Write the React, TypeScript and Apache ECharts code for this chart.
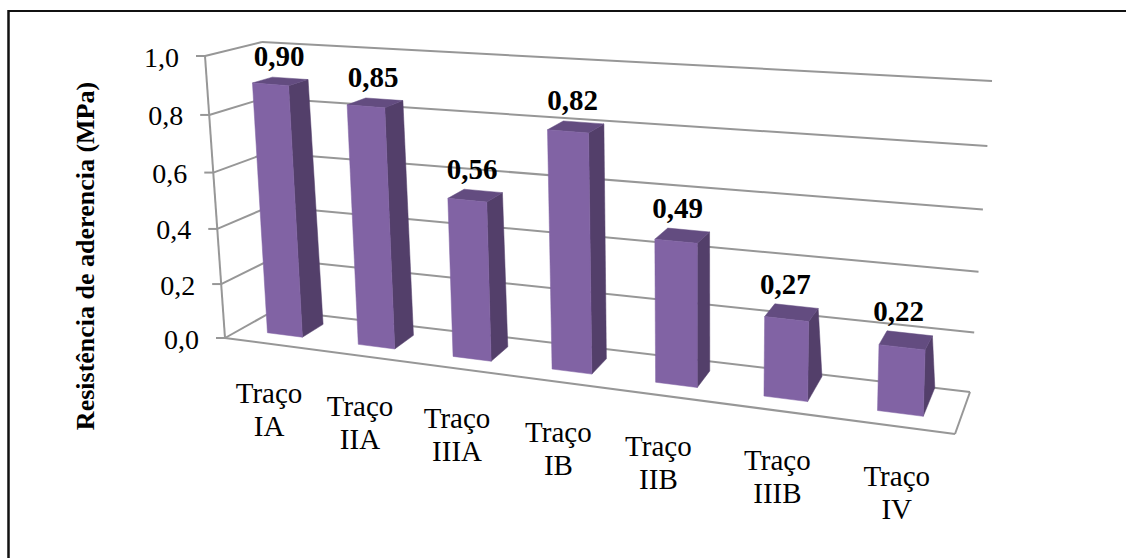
import React, { useEffect, useRef } from "react";
import * as echarts from "echarts";

// Chart contents
const categories = ["Traço\nIA", "Traço\nIIA", "Traço\nIIIA", "Traço\nIB", "Traço\nIIB", "Traço\nIIIB", "Traço\nIV"];
const adhesion = [0.9, 0.85, 0.56, 0.82, 0.49, 0.27, 0.22];
const adhesionLabels = ["0,90", "0,85", "0,56", "0,82", "0,49", "0,27", "0,22"];
const yTicks = [0, 0.2, 0.4, 0.6, 0.8, 1.0];
const yTickLabels = ["0,0", "0,2", "0,4", "0,6", "0,8", "1,0"];
const yTitle = "Resistência de aderencia (MPa)";

// Perspective box: the eight corners of the plotted volume on the page
const BOX = {
  frontLeftBottom: [225, 338],
  frontLeftTop: [205, 56],
  backLeftBottom: [275, 310],
  backLeftTop: [262, 42],
  backRightBottom: [970, 392],
  backRightTop: [992, 81],
  frontRightBottom: [955, 434],
  frontRightTop: [960, 114],
};
const U_WARP = 1.17;
const V_WARP = 1.057;
const BAR_HALF_BAND = 0.195;
const BAR_FRONT_DEPTH = 0.31;
const BAR_TOP_BACK_DEPTH = 0.67;
// Depth at which each column's rear edge meets the floor
const barFloorBackDepth = [0.75, 0.75, 0.75, 0.75, 0.76, 0.95, 1.0];
// Horizontal nudges of the category captions
const captionNudge = [-1, -3, -3, -3, -9, -1, 2];

const FONT = '"Liberation Serif", "Times New Roman", serif';
const GRID_COLOR = "#979797";
const FRONT_COLOR = "#8163a4";
const SIDE_COLOR = "#533f6a";
const TOP_COLOR = "#634c80";

const warp = (t: number, k: number) => t / (k + (1 - k) * t);
const mix = (a: number[], b: number[], t: number) => [a[0] + (b[0] - a[0]) * t, a[1] + (b[1] - a[1]) * t];

// Maps normalised (u across, v up, w into the page) onto the page
function project(u: number, v: number, w: number) {
  const U = warp(u, U_WARP);
  const V = warp(v, V_WARP);
  const bottom = mix(
    mix(BOX.frontLeftBottom, BOX.frontRightBottom, U),
    mix(BOX.backLeftBottom, BOX.backRightBottom, U),
    w,
  );
  const top = mix(mix(BOX.frontLeftTop, BOX.frontRightTop, U), mix(BOX.backLeftTop, BOX.backRightTop, U), w);
  return mix(bottom, top, V);
}

// Reads a data point through the (hidden) cartesian axes, as fractions of the grid
function toUnit(params: any, pt: number[]) {
  const r = params.coordSys;
  return [(pt[0] - r.x) / r.width, (r.y + r.height - pt[1]) / r.height];
}

const seg = (a: number[], b: number[]) => ({
  type: "line",
  shape: { x1: a[0], y1: a[1], x2: b[0], y2: b[1] },
  style: { stroke: GRID_COLOR, lineWidth: 2, fill: null },
  silent: true,
});

function renderFrame(params: any, api: any) {
  const [, v] = toUnit(params, api.coord([0, api.value(1)]));
  const i = params.dataIndex;
  const frontLeft = project(0, v, 0);
  const backLeft = project(0, v, 1);
  const backRight = project(1, v, 1);
  const children: any[] = [
    seg(frontLeft, backLeft),
    seg(backLeft, backRight),
    seg([frontLeft[0] - 9, frontLeft[1]], frontLeft),
    {
      type: "text",
      silent: true,
      style: {
        x: frontLeft[0] - 26,
        y: frontLeft[1] + 1,
        text: yTickLabels[i],
        fill: "#000",
        font: `28px ${FONT}`,
        align: "right",
        verticalAlign: "middle",
      },
    },
  ];
  if (i === 0) {
    children.push(seg(project(0, 0, 0), project(1, 0, 0)), seg(project(1, 0, 0), project(1, 0, 1)));
    children.push(seg(project(0, 0, 0), project(0, 1, 0)));
  }
  return { type: "group", children };
}

function renderBar(params: any, api: any) {
  const i = params.dataIndex;
  const center = api.coord([i, api.value(1)]);
  const band = api.size([1, 0])[0] / params.coordSys.width;
  const [u, v] = toUnit(params, center);
  const l = u - band * BAR_HALF_BAND;
  const r = u + band * BAR_HALF_BAND;
  const wf = BAR_FRONT_DEPTH;
  const wt = BAR_TOP_BACK_DEPTH;
  const wb = barFloorBackDepth[i];
  const face = (points: number[][], fill: string) => ({
    type: "polygon",
    shape: { points },
    style: { fill, stroke: fill, lineWidth: 0.5 },
    silent: true,
  });
  return {
    type: "group",
    children: [
      face([project(r, 0, wf), project(r, 0, wb), project(r, v, wt), project(r, v, wf)], SIDE_COLOR),
      face([project(l, v, wf), project(r, v, wf), project(r, v, wt), project(l, v, wt)], TOP_COLOR),
      face([project(l, 0, wf), project(r, 0, wf), project(r, v, wf), project(l, v, wf)], FRONT_COLOR),
    ],
  };
}

function renderValueLabel(params: any, api: any) {
  const i = params.dataIndex;
  const [u, v] = toUnit(params, api.coord([i, api.value(1)]));
  const p = project(u, v, BAR_TOP_BACK_DEPTH);
  return {
    type: "text",
    silent: true,
    style: {
      x: p[0] - 11,
      y: p[1] - 22,
      text: adhesionLabels[i],
      fill: "#000",
      font: `bold 29px ${FONT}`,
      align: "center",
      verticalAlign: "middle",
    },
  };
}

function renderCaption(params: any, api: any) {
  const i = params.dataIndex;
  const [u] = toUnit(params, api.coord([i, 0]));
  const p = project(u, 0, 0);
  return {
    type: "text",
    silent: true,
    style: {
      x: p[0] + captionNudge[i],
      y: p[1] + 66,
      text: categories[i],
      fill: "#000",
      font: `29px ${FONT}`,
      lineHeight: 33,
      align: "center",
      verticalAlign: "middle",
    },
  };
}

export default function App() {
  const ref = useRef<HTMLDivElement>(null);
  useEffect(() => {
    const chart = echarts.init(ref.current!, null, { renderer: "svg" });
    const barData = adhesion.map((v, i) => [i, v]);
    chart.setOption({
      animation: false,
      backgroundColor: "#fff",
      grid: { left: 0, right: 0, top: 0, bottom: 0 },
      xAxis: { type: "category", data: categories, show: false },
      yAxis: { type: "value", min: 0, max: 1, interval: 0.2, show: false },
      graphic: [
        {
          type: "line",
          shape: { x1: 8.5, y1: 11, x2: 1126, y2: 11 },
          style: { stroke: "#111", lineWidth: 2 },
        },
        {
          type: "line",
          shape: { x1: 8.5, y1: 10, x2: 8.5, y2: 558 },
          style: { stroke: "#111", lineWidth: 2.5 },
        },
        {
          type: "text",
          x: 85,
          y: 256,
          rotation: Math.PI / 2,
          style: {
            text: yTitle,
            fill: "#000",
            font: `bold 26px ${FONT}`,
            align: "center",
            verticalAlign: "middle",
          },
        },
      ],
      series: [
        { type: "custom", z: 1, clip: false, renderItem: renderFrame, data: yTicks.map((v, i) => [i, v]) },
        { type: "custom", z: 2, clip: false, renderItem: renderBar, data: barData },
        { type: "custom", z: 3, clip: false, renderItem: renderValueLabel, data: barData },
        { type: "custom", z: 3, clip: false, renderItem: renderCaption, data: barData },
      ],
    });
    return () => chart.dispose();
  }, []);
  return <div ref={ref} style={{ position: "fixed", left: 0, top: 0, width: 1126, height: 558 }} />;
}
